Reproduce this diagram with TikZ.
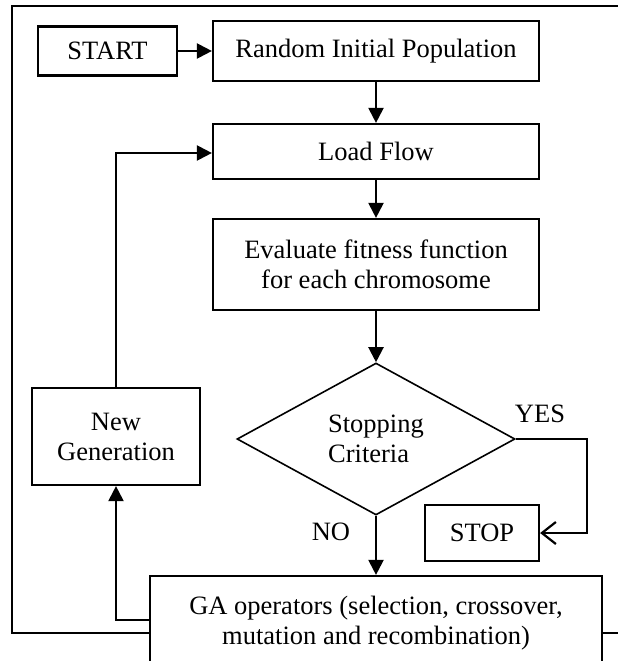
\documentclass[tikz,border=0pt]{standalone}
\usepackage{fontspec}
\setmainfont{Liberation Serif}
\usetikzlibrary{positioning,shapes.geometric,arrows.meta}

\begin{document}
\begin{tikzpicture}[x=1pt,y=-1pt,
		font=\fontsize{26.5}{30}\selectfont,
		block/.style={draw,line width=2.2pt,fill=white,inner sep=0pt,align=center},
		decision/.style={draw,diamond,line width=1.6pt,inner sep=0pt,minimum width=278pt,minimum height=152pt,aspect=1.83,align=left},
		flow/.style={line width=2.2pt,-{Triangle[length=15pt,width=15pt]}},
		openflow/.style={line width=2.2pt,-{Straight Barb[length=14pt,width=22pt,line width=2.2pt]}}]
		\useasboundingbox (0,0) rectangle (618,661);
		\clip (0,0) rectangle (618,661);

		\draw[line width=2.2pt] (12,6) rectangle (650,633);

		\node[block,minimum width=139pt,minimum height=49pt] (start) at (107.5,51) {START};
		\node[block,minimum width=326pt,minimum height=60pt] (init) at (376,51) {Random Initial Population};
		\node[block,minimum width=326pt,minimum height=55pt] (load) at (376,151.5) {Load Flow};
		\node[block,minimum width=326pt,minimum height=91pt] (eval) at (376,264.5) {Evaluate fitness function\\for each chromosome};
		\node[decision] (crit) at (376,439) {Stopping\\Criteria};
		\node[block,minimum width=168pt,minimum height=97pt] (newgen) at (116,436.5) {New\\Generation};
		\node[block,minimum width=114pt,minimum height=56pt] (stop) at (482,533) {STOP};
		\node[block,minimum width=452pt,minimum height=94pt] (gaop) at (376,623) {GA operators (selection, crossover,\\mutation and recombination)};

		\node (yes) at (540,414) {YES};
		\node (no) at (331,532) {NO};
		\coordinate (yesbend) at (587,439);

		\draw[flow] (start) -- (init);
		\draw[flow] (init) -- (load);
		\draw[flow] (load) -- (eval);
		\draw[flow] (eval) -- (crit);
		\draw[flow] (crit.south) -- (gaop.north);
		\draw[openflow] (crit.east) -- (yesbend) |- (stop.east);
		\draw[flow] ([yshift=3pt]gaop.west) -| (newgen.south);
		\draw[flow] (newgen.north) |- ([yshift=-1.5pt]load.west);
	\end{tikzpicture}
\end{document}
